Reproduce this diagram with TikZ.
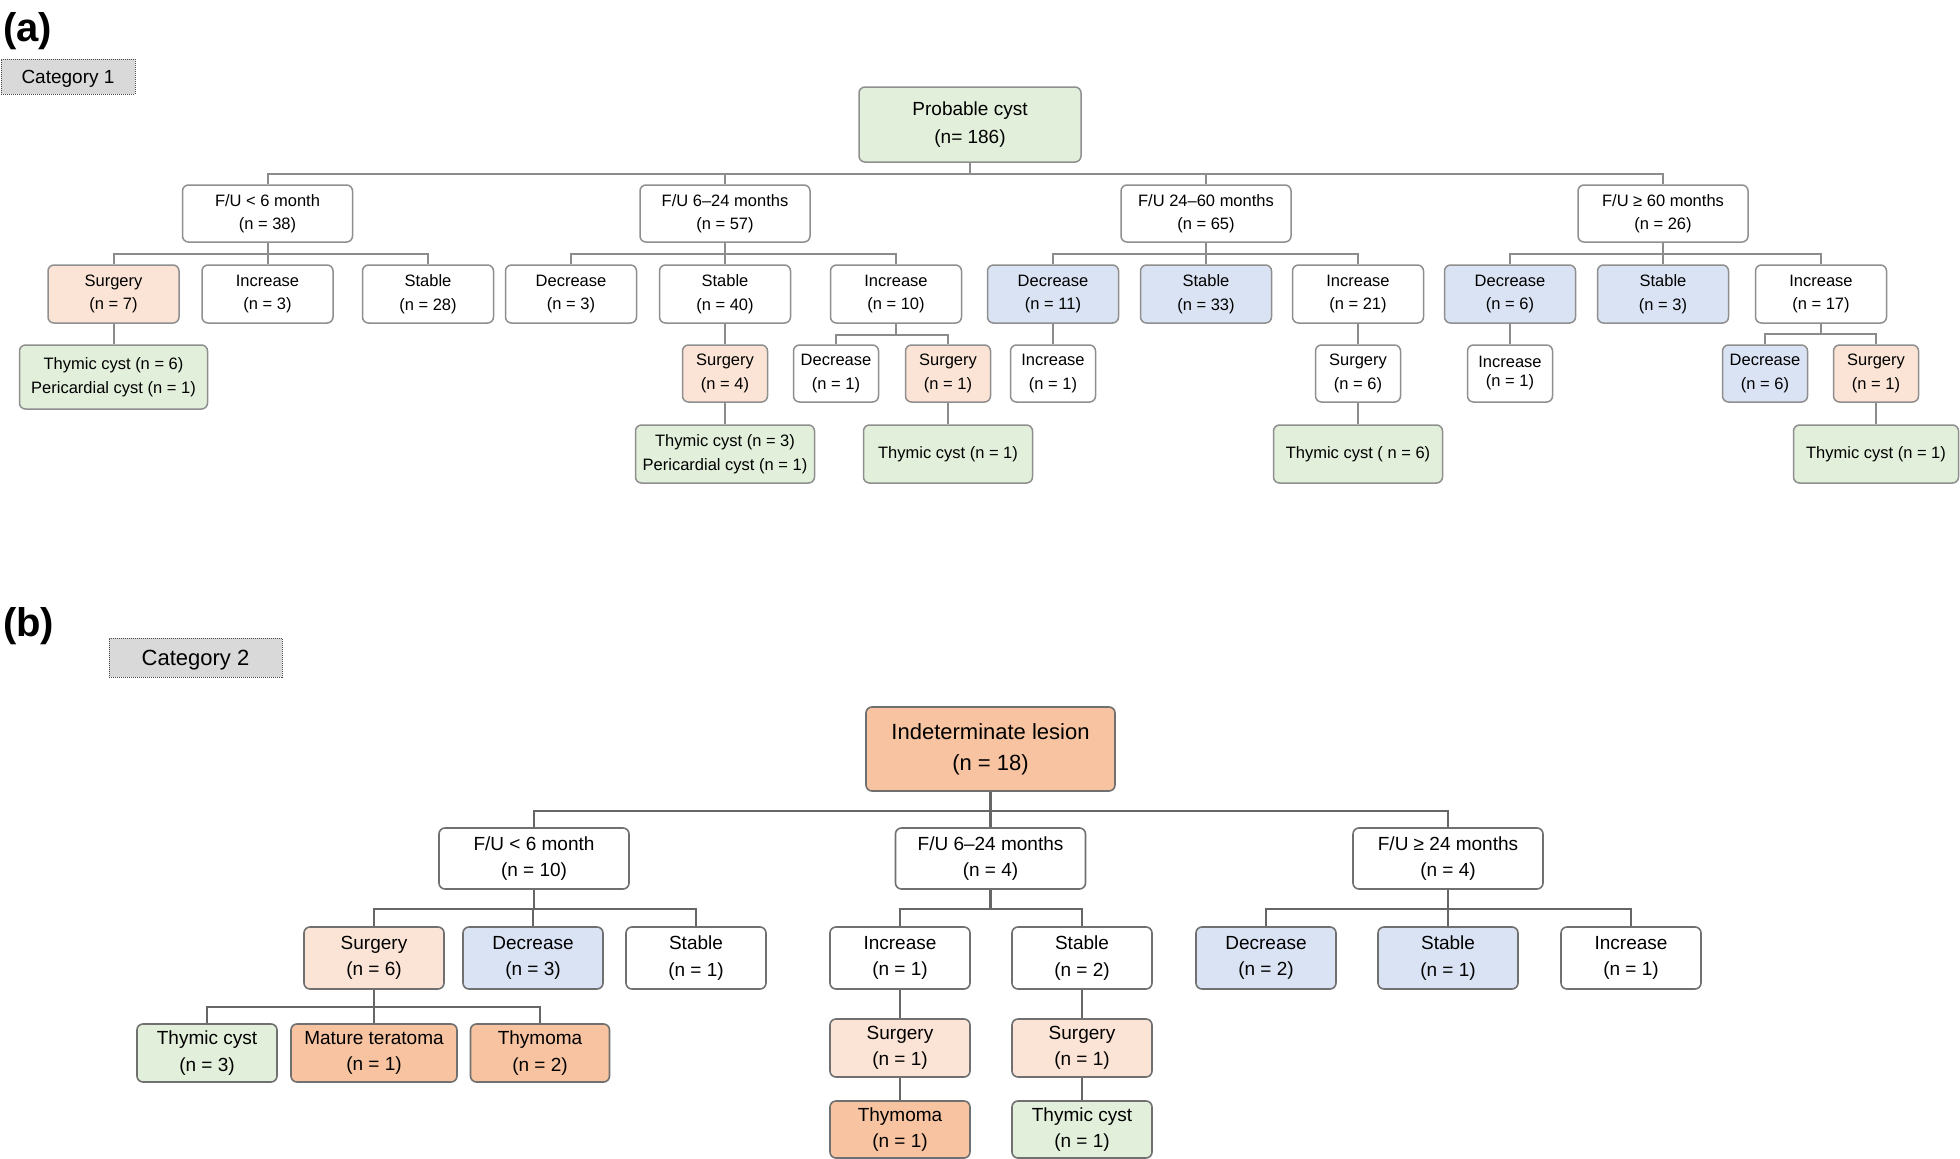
\documentclass[tikz,border=0pt]{standalone}
\usepackage{fontspec}
\setmainfont{Liberation Sans}
\definecolor{cG}{HTML}{E2EFDA}
\definecolor{cP}{HTML}{FBE4D5}
\definecolor{cB}{HTML}{DAE3F3}
\definecolor{cO}{HTML}{F8C3A0}
\definecolor{cC}{HTML}{D9D9D9}
\definecolor{bdA}{HTML}{8F8F8F}
\definecolor{bdB}{HTML}{707070}
\definecolor{lnA}{HTML}{8C8C8C}
\definecolor{lnB}{HTML}{666666}
\begin{document}
\begin{tikzpicture}[x=1pt,y=-1pt,
  bxa/.style={draw=bdA, line width=1.5pt, rounded corners=6pt, align=center, inner sep=0pt, fill=white,
    font=\fontsize{16.5}{23.5}\selectfont},
  bxb/.style={draw=bdB, line width=1.6pt, rounded corners=6pt, align=center, inner sep=0pt, fill=white,
    font=\fontsize{19}{26.5}\selectfont},
  cat/.style={draw=black!70, densely dotted, line width=1pt, fill=cC, inner sep=0pt, text depth=0pt},
  plabel/.style={font=\fontsize{40}{40}\selectfont\bfseries, anchor=base west, inner sep=0pt},
  lA1/.style={minimum width=170pt, minimum height=57pt},
  lA2/.style={minimum width=131pt, minimum height=58pt},
  lA3/.style={minimum width=85pt, minimum height=57pt},
  lB1/.style={minimum width=190pt, minimum height=61pt},
  lB2/.style={minimum width=140pt, minimum height=62pt},
  lB3/.style={minimum width=140pt, minimum height=58pt},
  lnka/.style={draw=lnA, line width=2pt},
  lnkb/.style={draw=lnB, line width=2.4pt}
]
\useasboundingbox (0,0) rectangle (1960,1159);
\fill[white] (0,0) rectangle (1960,1159);

% ---------------- Panel (a) ----------------
\node[plabel] (la) at (3,41) {(a)};
\node[cat, text height=14pt, minimum width=134pt, minimum height=35pt, font=\fontsize{19}{22}\selectfont] (c1) at (68,76.5) {Category 1};

\node[bxa, fill=cG, minimum width=222pt, minimum height=75pt, font=\fontsize{19}{28}\selectfont] (r) at (970,124.5) {Probable cyst\\(n= 186)};

\node[bxa, lA1] (a1) at (267.5,213.5) {F/U < 6 month\\(n = 38)};
\node[bxa, lA1] (a2) at (725,213.5) {F/U 6–24 months\\(n = 57)};
\node[bxa, lA1] (a3) at (1206,213.5) {F/U 24–60 months\\(n = 65)};
\node[bxa, lA1] (a4) at (1663,213.5) {F/U ≥ 60 months\\(n = 26)};

\node[bxa, lA2, fill=cP] (a11) at (113.5,294) {Surgery\\(n = 7)};
\node[bxa, lA2] (a12) at (267.5,294) {Increase\\(n = 3)};
\node[bxa, lA2] (a13) at (428,294) {Stable\\(n = 28)};
\node[bxa, lA2] (a21) at (571,294) {Decrease\\(n = 3)};
\node[bxa, lA2] (a22) at (725,294) {Stable\\(n = 40)};
\node[bxa, lA2] (a23) at (896,294) {Increase\\(n = 10)};
\node[bxa, lA2, fill=cB] (a31) at (1053,294) {Decrease\\(n = 11)};
\node[bxa, lA2, fill=cB] (a32) at (1206,294) {Stable\\(n = 33)};
\node[bxa, lA2] (a33) at (1358,294) {Increase\\(n = 21)};
\node[bxa, lA2, fill=cB] (a41) at (1510,294) {Decrease\\(n = 6)};
\node[bxa, lA2, fill=cB] (a42) at (1663,294) {Stable\\(n = 3)};
\node[bxa, lA2] (a43) at (1821,294) {Increase\\(n = 17)};

\node[bxa, fill=cG, minimum width=188pt, minimum height=64pt] (a111) at (113.5,377) {Thymic cyst (n = 6)\\Pericardial cyst (n = 1)};
\node[bxa, lA3, fill=cP] (a221) at (725,373.5) {Surgery\\(n = 4)};
\node[bxa, lA3] (a231) at (836,373.5) {Decrease\\(n = 1)};
\node[bxa, lA3, fill=cP] (a232) at (948,373.5) {Surgery\\(n = 1)};
\node[bxa, lA3] (a311) at (1053,373.5) {Increase\\(n = 1)};
\node[bxa, lA3] (a331) at (1358,373.5) {Surgery\\(n = 6)};
\node[bxa, lA3, font=\fontsize{16.5}{19}\selectfont] (a411) at (1510,373.5) {Increase\\(n = 1)};
\node[bxa, lA3, fill=cB] (a431) at (1765,373.5) {Decrease\\(n = 6)};
\node[bxa, lA3, fill=cP] (a432) at (1876,373.5) {Surgery\\(n = 1)};

\node[bxa, fill=cG, minimum width=179pt, minimum height=58pt] (a2211) at (725,454) {Thymic cyst (n = 3)\\Pericardial cyst (n = 1)};
\node[bxa, fill=cG, minimum width=169pt, minimum height=58pt] (a2321) at (948,454) {Thymic cyst (n = 1)};
\node[bxa, fill=cG, minimum width=169pt, minimum height=58pt] (a3311) at (1358,454) {Thymic cyst ( n = 6)};
\node[bxa, fill=cG, minimum width=165pt, minimum height=58pt] (a4321) at (1876,454) {Thymic cyst (n = 1)};

% connectors (a)
\foreach \c in {a1,a2,a3,a4} \draw[lnka] (r.south) -- ++(0,11) -| (\c.north);
\foreach \c in {a11,a12,a13} \draw[lnka] (a1.south) -- ++(0,11) -| (\c.north);
\foreach \c in {a21,a22,a23} \draw[lnka] (a2.south) -- ++(0,11) -| (\c.north);
\foreach \c in {a31,a32,a33} \draw[lnka] (a3.south) -- ++(0,11) -| (\c.north);
\foreach \c in {a41,a42,a43} \draw[lnka] (a4.south) -- ++(0,11) -| (\c.north);
\foreach \c in {a231,a232} \draw[lnka] (a23.south) -- ++(0,11) -| (\c.north);
\foreach \c in {a431,a432} \draw[lnka] (a43.south) -- ++(0,10) -| (\c.north);
\draw[lnka] (a11) -- (a111);
\draw[lnka] (a22) -- (a221);
\draw[lnka] (a31) -- (a311);
\draw[lnka] (a33) -- (a331);
\draw[lnka] (a41) -- (a411);
\draw[lnka] (a221) -- (a2211);
\draw[lnka] (a232) -- (a2321);
\draw[lnka] (a331) -- (a3311);
\draw[lnka] (a432) -- (a4321);

% ---------------- Panel (b) ----------------
\node[plabel] (lb) at (3,636) {(b)};
\node[cat, text height=16pt, minimum width=173pt, minimum height=39pt, font=\fontsize{22}{25}\selectfont] (c2) at (195.5,657.5) {Category 2};

\node[bxb, fill=cO, minimum width=249pt, minimum height=84pt, font=\fontsize{22}{31}\selectfont] (rb) at (990.5,749) {Indeterminate lesion\\(n = 18)};

\node[bxb, lB1] (b1) at (534,858.5) {F/U < 6 month\\(n = 10)};
\node[bxb, lB1] (b2) at (990.5,858.5) {F/U 6–24 months\\(n = 4)};
\node[bxb, lB1] (b3) at (1448,858.5) {F/U ≥ 24 months\\(n = 4)};

\node[bxb, lB2, fill=cP] (b11) at (374,958) {Surgery\\(n = 6)};
\node[bxb, lB2, fill=cB] (b12) at (533,958) {Decrease\\(n = 3)};
\node[bxb, lB2] (b13) at (696,958) {Stable\\(n = 1)};
\node[bxb, lB2] (b21) at (900,958) {Increase\\(n = 1)};
\node[bxb, lB2] (b22) at (1082,958) {Stable\\(n = 2)};
\node[bxb, lB2, fill=cB] (b31) at (1266,958) {Decrease\\(n = 2)};
\node[bxb, lB2, fill=cB] (b32) at (1448,958) {Stable\\(n = 1)};
\node[bxb, lB2] (b33) at (1631,958) {Increase\\(n = 1)};

\node[bxb, lB3, fill=cG] (b111) at (207,1053) {Thymic cyst\\(n = 3)};
\node[bxb, lB3, fill=cO, minimum width=166pt] (b112) at (374,1053) {Mature teratoma\\(n = 1)};
\node[bxb, lB3, fill=cO, minimum width=139pt] (b113) at (540,1053) {Thymoma\\(n = 2)};
\node[bxb, lB3, fill=cP] (b211) at (900,1048) {Surgery\\(n = 1)};
\node[bxb, lB3, fill=cP] (b221) at (1082,1048) {Surgery\\(n = 1)};
\node[bxb, lB3, fill=cO, minimum height=57pt] (b2111) at (900,1129.5) {Thymoma\\(n = 1)};
\node[bxb, lB3, fill=cG, minimum height=57pt] (b2211) at (1082,1129.5) {Thymic cyst\\(n = 1)};

% connectors (b)
\foreach \c in {b1,b2,b3} \draw[lnkb] (rb.south) -- ++(0,19) -| (\c.north);
\foreach \c in {b11,b12,b13} \draw[lnkb] (b1.south) -- ++(0,19) -| (\c.north);
\foreach \c in {b21,b22} \draw[lnkb] (b2.south) -- ++(0,19) -| (\c.north);
\foreach \c in {b31,b32,b33} \draw[lnkb] (b3.south) -- ++(0,19) -| (\c.north);
\foreach \c in {b111,b112,b113} \draw[lnkb] (b11.south) -- ++(0,17) -| (\c.north);
\draw[lnkb] (b21) -- (b211);
\draw[lnkb] (b22) -- (b221);
\draw[lnkb] (b211) -- (b2111);
\draw[lnkb] (b221) -- (b2211);
\end{tikzpicture}
\end{document}
